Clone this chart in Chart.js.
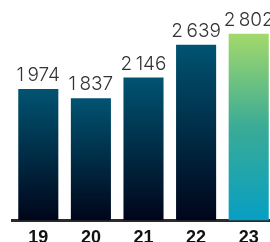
<!DOCTYPE html>
<html>
<head>
<meta charset="utf-8">
<script src="https://cdn.jsdelivr.net/npm/chart.js@4"></script>
<style>
  html, body { margin: 0; padding: 0; background: #fff; overflow: hidden; }
  canvas { display: block; }
</style>
</head>
<body>
<canvas id="chart" width="275" height="242"></canvas>
<script>
const years = ['19', '20', '21', '22', '23'];
const values = [1974, 1837, 2146, 2639, 2802];
const valueLabels = ['1\u202F974', '1\u202F837', '2\u202F146', '2\u202F639', '2\u202F802'];

// Etiquetas de valor encima de cada barra
const valueLabelPlugin = {
    id: 'valueLabels',
    afterDatasetsDraw(chart) {
        const ctx = chart.ctx;
        const meta = chart.getDatasetMeta(0);
        ctx.save();
        ctx.font = '300 19px Inter';
        ctx.fillStyle = '#333333';
        ctx.textAlign = 'center';
        ctx.textBaseline = 'alphabetic';
        meta.data.forEach(function(bar, i) {
            ctx.fillText(valueLabels[i], bar.x, bar.y - 8);
        });
        ctx.restore();
    }
};

function barGradient(context) {
    const chart = context.chart;
    if (!chart.chartArea) return '#003a55';
    const yScale = chart.scales.y;
    const top = yScale.getPixelForValue(context.raw);
    const bottom = yScale.getPixelForValue(0);
    const g = chart.ctx.createLinearGradient(0, top, 0, bottom);
    if (context.dataIndex === years.length - 1) {
        g.addColorStop(0, '#a3d96b');
        g.addColorStop(0.5, '#3aab96');
        g.addColorStop(1, '#069fc3');
    } else {
        g.addColorStop(0, '#005472');
        g.addColorStop(1, '#00051a');
    }
    return g;
}

new Chart(document.getElementById('chart').getContext('2d'), {
    type: 'bar',
    data: {
        labels: years,
        datasets: [{
            data: values,
            backgroundColor: barGradient,
            borderWidth: 0,
            categoryPercentage: 1,
            barPercentage: 0.762
        }]
    },
    options: {
        responsive: false,
        animation: false,
        devicePixelRatio: 1,
        layout: { padding: { left: 12, right: 0, top: 0, bottom: 0 } },
        plugins: {
            legend: { display: false },
            tooltip: { enabled: false }
        },
        scales: {
            x: {
                z: 1,
                grid: { display: false, drawTicks: false },
                border: { display: true, color: '#2b2b2b', width: 3 },
                ticks: {
                    color: '#111111',
                    padding: 11.5,
                    font: { family: 'Liberation Sans', size: 18, weight: 'bold', lineHeight: 13 / 18 }
                },
                afterFit: function(scale) { scale.height = 21.5; }
            },
            y: {
                display: false,
                min: 0,
                max: 3310
            }
        }
    },
    plugins: [valueLabelPlugin]
});
</script>
</body>
</html>
